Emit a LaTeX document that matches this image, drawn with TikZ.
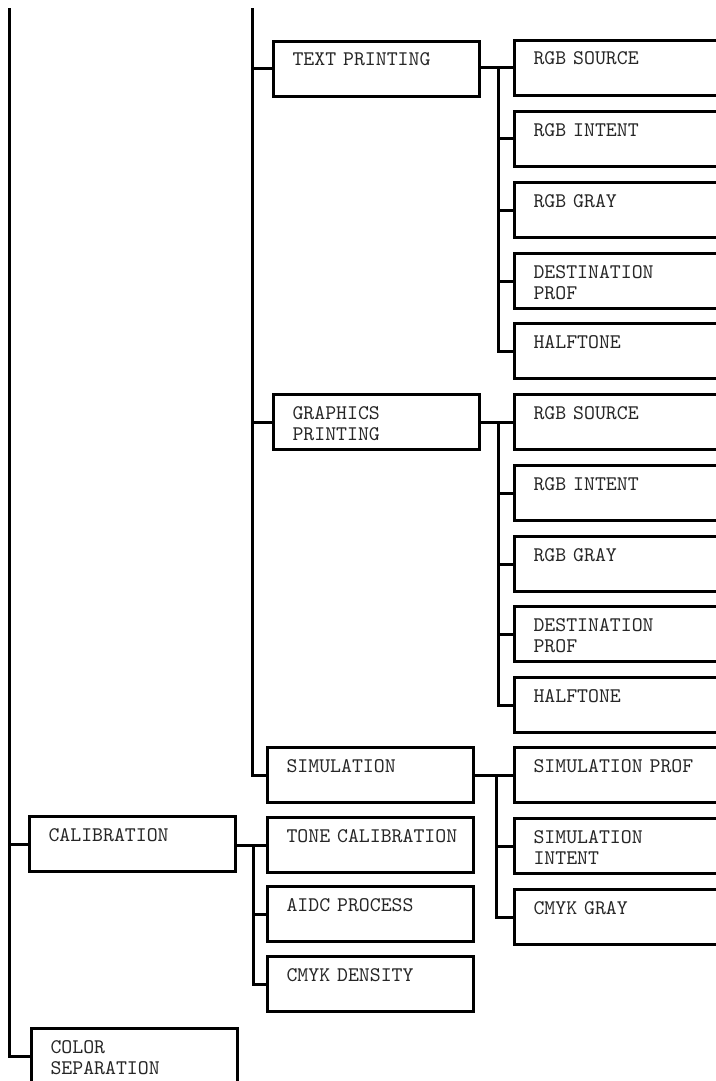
\documentclass[tikz,border=0pt]{standalone}
\usepackage{fontspec}
\usetikzlibrary{positioning,calc}

\begin{document}
\begin{tikzpicture}[
  x=0.5pt,y=-0.5pt,
  box/.style={draw,line width=1.5pt,anchor=north west,text width=84pt,
    inner xsep=9.5pt,inner ysep=0pt,text height=12.25pt,text depth=15.25pt,
    align=left,font=\ttfamily\fontsize{10.4}{10.5}\selectfont,text=black!85},
  conn/.style={line width=1.5pt,line cap=rect}
]
  \useasboundingbox (0,0) rectangle (716,1081);
  \clip (0,0) rectangle (716,1081);
  % Top level
  \node[box] (cal) at (28,815) {CALIBRATION};
  \node[box] (csep) at (30,1027) {COLOR\\SEPARATION};
  % Second level
  \node[box] (tp) at (272,40) {TEXT PRINTING};
  \node[box] (gp) at (272,393) {GRAPHICS\\PRINTING};
  \node[box] (sim) at (266,746) {SIMULATION};
  \node[box] (tone) at (266,816) {TONE~CALIBRATION};
  \node[box] (aidc) at (266,885) {AIDC PROCESS};
  \node[box] (dens) at (266,955) {CMYK DENSITY};
  % Text printing items
  \node[box] (ts1) at (513,39) {RGB SOURCE};
  \node[box] (ts2) at (513,110) {RGB INTENT};
  \node[box] (ts3) at (513,181) {RGB GRAY};
  \node[box] (ts4) at (513,252) {DESTINATION\\PROF};
  \node[box] (ts5) at (513,322) {HALFTONE};
  % Graphics printing items
  \node[box] (gs1) at (513,393) {RGB SOURCE};
  \node[box] (gs2) at (513,464) {RGB INTENT};
  \node[box] (gs3) at (513,535) {RGB GRAY};
  \node[box] (gs4) at (513,605) {DESTINATION\\PROF};
  \node[box] (gs5) at (513,676) {HALFTONE};
  % Simulation items
  \node[box] (sp1) at (513,746) {SIMULATION~PROF};
  \node[box] (sp2) at (513,817) {SIMULATION\\INTENT};
  \node[box] (sp3) at (513,888) {CMYK GRAY};
  % Trunk lines
  \coordinate (top0) at (9,10);
  \coordinate (top1) at (252,10);
  \draw[conn] (top0) |- (csep.west);
  \draw[conn] (top0 |- cal.west) -- (cal.west);
  \draw[conn] (top1) |- (sim.west);
  \draw[conn] (top1 |- tp.west) -- (tp.west);
  \draw[conn] (top1 |- gp.west) -- (gp.west);
  % Text printing branch
  \coordinate (tj) at ($(tp.east |- ts1.west)+(17,0)$);
  \draw[conn] (tp.east |- ts1.west) -- (ts1.west);
  \draw[conn] (tj) |- (ts5.west);
  \foreach \n in {2,3,4} \draw[conn] (tj |- ts\n.west) -- (ts\n.west);
  % Graphics printing branch
  \coordinate (gj) at ($(gp.east |- gs1.west)+(17,0)$);
  \draw[conn] (gp.east |- gs1.west) -- (gs1.west);
  \draw[conn] (gj) |- (gs5.west);
  \foreach \n in {2,3,4} \draw[conn] (gj |- gs\n.west) -- (gs\n.west);
  % Simulation branch
  \coordinate (sj) at ($(sim.east |- sp1.west)+(21,0)$);
  \draw[conn] (sim.east |- sp1.west) -- (sp1.west);
  \draw[conn] (sj) |- (sp3.west);
  \draw[conn] (sj |- sp2.west) -- (sp2.west);
  % Calibration branch
  \coordinate (cj) at ($(cal.east |- tone.west)+(16,0)$);
  \draw[conn] (cal.east |- tone.west) -- (tone.west);
  \draw[conn] (cj) |- (dens.west);
  \draw[conn] (cj |- aidc.west) -- (aidc.west);
\end{tikzpicture}
\end{document}
